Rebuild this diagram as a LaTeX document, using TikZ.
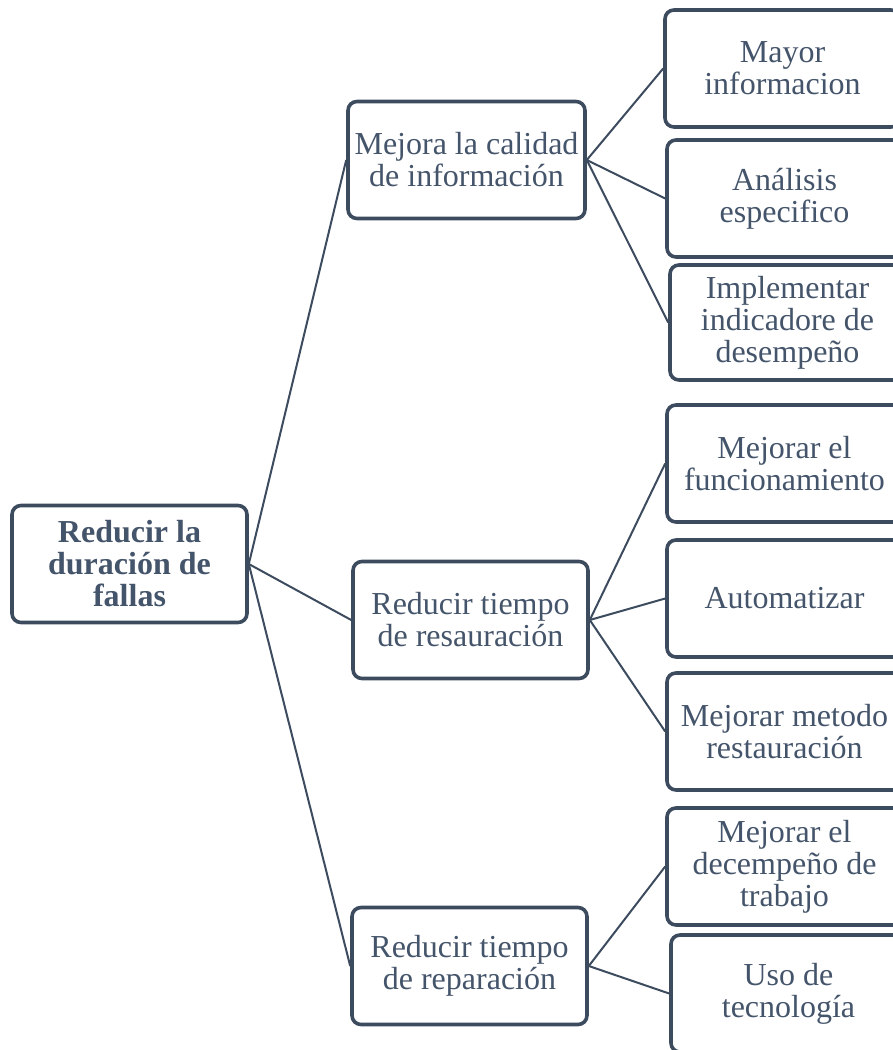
\documentclass[tikz,border=0pt]{standalone}
\usepackage{fontspec}
\setmainfont{Liberation Serif}
\definecolor{boxline}{HTML}{3D4B5F}
\definecolor{boxtext}{HTML}{44546A}
\tikzset{
  x=1pt, y=-1pt,
  card/.style={draw=boxline, line width=3.6pt, rounded corners=9pt, fill=white,
    text=boxtext, align=center, minimum width=235pt, minimum height=117pt,
    inner sep=2pt, font=\fontsize{32}{32}\selectfont},
  rootcard/.style={card, font=\fontsize{32}{32}\selectfont\bfseries},
  link/.style={draw=boxline, line width=2pt}
}
\begin{document}
\begin{tikzpicture}
\useasboundingbox (0,0) rectangle (893,1050);
\clip (0,0) rectangle (893,1050);

% root
\node[rootcard] (root) at (129.5,564) {Reducir la\\duración de\\fallas};

% second level
\node[card, minimum width=237pt] (m1) at (466.5,160) {Mejora la calidad\\de información};
\node[card] (m2) at (470.5,620) {Reducir tiempo\\de resauración};
\node[card] (m3) at (469.5,966) {Reducir tiempo\\de reparación};

% third level
\node[card] (r1) at (782.5,68.5) {Mayor\\informacion};
\node[card] (r2) at (784.5,198.5) {Análisis\\especifico};
\node[card, minimum height=115pt] (r3) at (787.5,322.5) {Implementar\\indicadore de\\desempeño};
\node[card] (r4) at (784.5,463.5) {Mejorar el\\funcionamiento};
\node[card] (r5) at (784.5,598.5) {Automatizar};
\node[card] (r6) at (784.5,731.5) {Mejorar metodo\\restauración};
\node[card] (r7) at (784.5,866.5) {Mejorar el\\decempeño de\\trabajo};
\node[card] (r8) at (788.5,993.5) {Uso de\\tecnología};

% connectors
\draw[link] (root.east) -- (m1.west);
\draw[link] (root.east) -- (m2.west);
\draw[link] (root.east) -- (m3.west);
\draw[link] (m1.east) -- (r1.west);
\draw[link] (m1.east) -- (r2.west);
\draw[link] (m1.east) -- (r3.west);
\draw[link] (m2.east) -- (r4.west);
\draw[link] (m2.east) -- (r5.west);
\draw[link] (m2.east) -- (r6.west);
\draw[link] (m3.east) -- (r7.west);
\draw[link] (m3.east) -- (r8.west);
\end{tikzpicture}
\end{document}
